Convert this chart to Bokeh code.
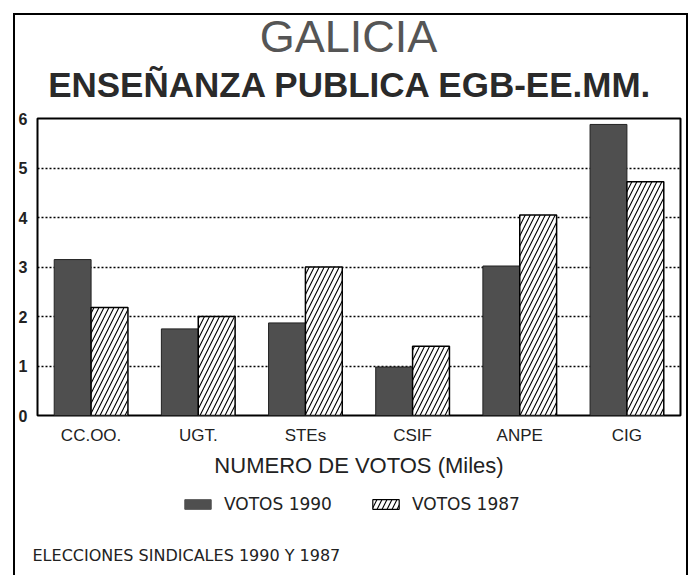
from bokeh.plotting import figure
from bokeh.layouts import column
from bokeh.models import (Range1d, Legend, LegendItem, FixedTicker, ColumnDataSource, Label)
from bokeh.embed import file_html
from bokeh.resources import INLINE

# ---- data ----
categories = ["CC.OO.", "UGT.", "STEs", "CSIF", "ANPE", "CIG"]
votos_1990 = [3.15, 1.75, 1.87, 0.98, 3.02, 5.88]
votos_1987 = [2.18, 2.00, 3.00, 1.40, 4.05, 4.72]
y_ticks = [0, 1, 2, 3, 4, 5, 6]
grid_ticks = [1, 2, 3, 4, 5]
title_text = "GALICIA"
subtitle_text = "ENSEÑANZA PUBLICA EGB-EE.MM."
axis_text = "NUMERO DE VOTOS (Miles)"
series_names = ["VOTOS 1990", "VOTOS 1987"]
footer_text = "ELECCIONES SINDICALES 1990 Y 1987"

# ---- layout (canvas px) ----
W = 691
H0, H1, H2 = 108, 377, 90          # title strip, chart, legend/footer strip
FL, FR = 37, 680                    # frame left/right
TOP_PAD, BOTTOM_PAD = 10, 70        # chart frame spans 118..415 on the page

DARK = "#4f4f4f"
INK = "#222222"
SIDES = "inset 13px 0 0 0 white, inset -3px 0 0 0 white, inset 15px 0 0 0 black, inset -5px 0 0 0 black"

def strip(height, shadow):
    f = figure(width=W, height=height, output_backend="svg", toolbar_location=None,
               x_axis_location=None, y_axis_location=None,
               min_border_left=0, min_border_right=0, min_border_top=0, min_border_bottom=0)
    unaligned = "frame_align" in f.properties()
    if unaligned:
        f.frame_align = False
    x0, x1 = (0, W) if unaligned else (FL, FR)
    f.x_range = Range1d(x0, x1)          # data x == page px
    f.y_range = Range1d(height, 0)       # data y == px from strip top
    f.grid.visible = False
    f.outline_line_color = None
    f.background_fill_color = None
    f.border_fill_color = None
    f.styles = {"box-shadow": shadow}
    return f, x0

# ---- title strip ----
p0, _ = strip(H0, "inset 0 13px 0 0 white, " + SIDES + ", inset 0 15px 0 0 black")
p0.add_layout(Label(x=348, y=36, text=title_text, text_align="center", text_baseline="middle",
                    text_font="Liberation Sans", text_font_size="45px", text_color="#555555"))
p0.add_layout(Label(x=350, y=84, text=subtitle_text, text_align="center", text_baseline="middle",
                    text_font="Liberation Sans", text_font_size="35px", text_font_style="bold",
                    text_color="#2a2a2a"))

# ---- chart ----
xpos = [i + 0.5 for i in range(len(categories))]
src = ColumnDataSource(dict(
    x1=[x - 0.172 for x in xpos], x2=[x + 0.172 for x in xpos],
    v90=votos_1990, v87=votos_1987))

p = figure(width=W, height=H1, output_backend="svg", toolbar_location=None,
           x_range=Range1d(0, len(categories)), y_range=Range1d(0, max(y_ticks)),
           min_border_left=FL, min_border_right=W - FR,
           min_border_top=TOP_PAD, min_border_bottom=BOTTOM_PAD)
p.background_fill_color = "white"
p.border_fill_color = None
p.outline_line_color = "black"
p.outline_line_width = 2
p.styles = {"box-shadow": SIDES}

hatch_kw = dict(hatch_pattern="/", hatch_color="black", hatch_weight=1.1, hatch_scale=10)

r1 = p.vbar(x="x1", top="v90", width=0.344, source=src,
            fill_color=DARK, line_color=INK, line_width=1)
r2 = p.vbar(x="x2", top="v87", width=0.344, source=src,
            fill_color="white", line_color="black", line_width=1.5, **hatch_kw)

p.xgrid.visible = False
p.ygrid.ticker = FixedTicker(ticks=grid_ticks)
p.ygrid.grid_line_color = "black"
p.ygrid.grid_line_dash = "2 2"
p.ygrid.grid_line_width = 1.3

p.yaxis.ticker = FixedTicker(ticks=y_ticks)
p.yaxis.axis_line_color = None
p.yaxis.major_tick_line_color = None
p.yaxis.major_tick_out = 0
p.yaxis.major_tick_in = 0
p.yaxis.minor_tick_line_color = None
p.yaxis.major_label_standoff = 10
p.yaxis.major_label_text_font = "Liberation Sans"
p.yaxis.major_label_text_font_size = "16px"
p.yaxis.major_label_text_font_style = "bold"
p.yaxis.major_label_text_color = INK

p.xaxis.ticker = FixedTicker(ticks=xpos)
p.xaxis.major_label_overrides = {x: c for x, c in zip(xpos, categories)}
p.xaxis.axis_line_color = None
p.xaxis.major_tick_line_color = None
p.xaxis.major_tick_out = 0
p.xaxis.major_tick_in = 0
p.xaxis.minor_tick_line_color = None
p.xaxis.major_label_standoff = 10
p.xaxis.major_label_text_font = "Liberation Sans"
p.xaxis.major_label_text_font_size = "17px"
p.xaxis.major_label_text_color = INK
p.xaxis.axis_label = axis_text
p.xaxis.axis_label_standoff = 5
p.xaxis.axis_label_text_font = "Liberation Sans"
p.xaxis.axis_label_text_font_size = "22px"
p.xaxis.axis_label_text_font_style = "normal"
p.xaxis.axis_label_text_color = INK

# ---- legend / footer strip ----
p2, fx0 = strip(H2, SIDES)
# legend proxies: same data, mapped through off-canvas ranges so only the legend shows them
p2.extra_x_ranges = {"offcanvas": Range1d(20, 30)}
p2.extra_y_ranges = {"offcanvas": Range1d(20, 30)}
k1 = p2.vbar(x="x1", top="v90", width=0.344, source=src,
             x_range_name="offcanvas", y_range_name="offcanvas",
             fill_color=DARK, line_color=DARK, line_width=1)
k2 = p2.vbar(x="x2", top="v87", width=0.344, source=src,
             x_range_name="offcanvas", y_range_name="offcanvas",
             fill_color="white", line_color="black", line_width=1.2, **hatch_kw)
legend = Legend(items=[LegendItem(label=series_names[0], renderers=[k1]),
                       LegendItem(label=series_names[1], renderers=[k2])],
                orientation="horizontal", location=(181 - fx0, 61),
                padding=0, margin=0, spacing=37, glyph_width=33, glyph_height=12,
                label_standoff=10, border_line_color=None, background_fill_alpha=0,
                label_text_font="DejaVu Sans", label_text_font_size="17px",
                label_text_color=INK)
p2.add_layout(legend, "center")
p2.add_layout(Label(x=max(32, fx0), y=70, text=footer_text, text_align="left", text_baseline="middle",
                    text_font="DejaVu Sans", text_font_size="16px", text_color=INK))

open("out.html", "w").write(file_html(column(p0, p, p2, spacing=0), INLINE))
